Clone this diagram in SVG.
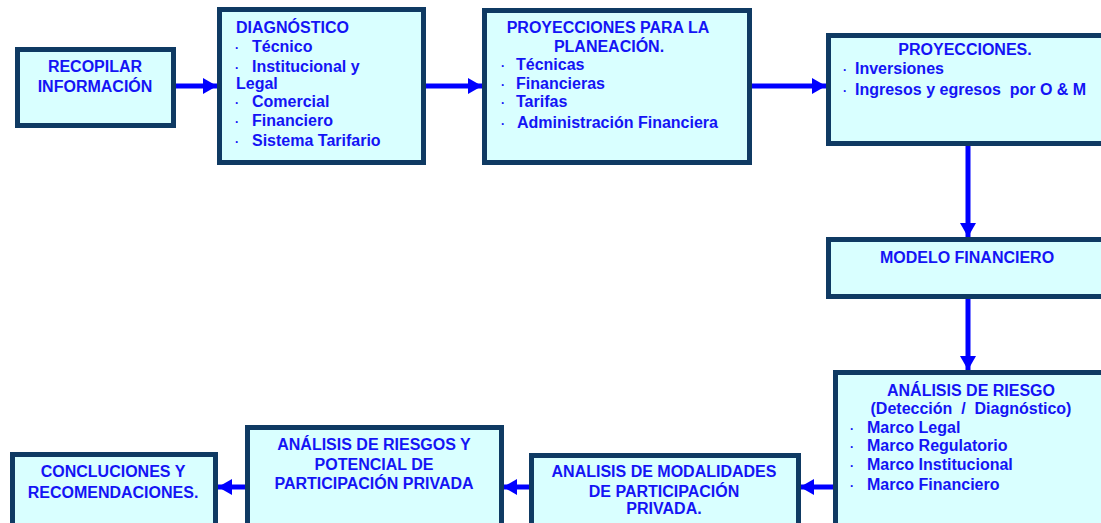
<svg xmlns="http://www.w3.org/2000/svg" width="1101" height="523" viewBox="0 0 1101 523">
<style>
.box{fill:#d9ffff;stroke:#0f3a63;stroke-width:5}
.t{font-family:"Liberation Sans",Arial,sans-serif;font-weight:bold;font-size:16px;fill:#1414f5}
.c{text-anchor:middle}
.b{font-size:12px}
.ar{stroke:#0000ff;stroke-width:5;fill:none;marker-end:url(#ah)}
</style>
<defs>
<marker id="ah" markerUnits="userSpaceOnUse" markerWidth="15" markerHeight="16" refX="14" refY="8" orient="auto">
<path d="M0,0 L14,8 L0,16 Z" fill="#0000ff"/>
</marker>
</defs>
<rect width="1101" height="523" fill="#ffffff"/>
<g id="connectors">
<line class="ar" x1="176" y1="86" x2="217" y2="86"/>
<line class="ar" x1="426" y1="86" x2="482" y2="86"/>
<line class="ar" x1="752" y1="86" x2="826" y2="86"/>
<line class="ar" x1="968" y1="146" x2="968" y2="237"/>
<line class="ar" x1="968" y1="299" x2="968" y2="370"/>
<line class="ar" x1="833" y1="487" x2="800" y2="487"/>
<line class="ar" x1="529" y1="487" x2="503" y2="487"/>
<line class="ar" x1="245" y1="487" x2="218" y2="487"/>
</g>
<g id="recopilar">
<rect class="box" x="17.5" y="49.5" width="156" height="76"/>
<text class="t c" x="95" y="72">RECOPILAR</text>
<text class="t c" x="95" y="92">INFORMACIÓN</text>
</g>
<g id="diagnostico">
<rect class="box" x="219.5" y="9.5" width="204" height="153"/>
<text class="t" x="236" y="33">DIAGNÓSTICO</text>
<text class="t b" x="235" y="52">·</text><text class="t" x="252" y="52">Técnico</text>
<text class="t b" x="235" y="72">·</text><text class="t" x="252" y="72">Institucional y</text>
<text class="t" x="236" y="89">Legal</text>
<text class="t b" x="235" y="107">·</text><text class="t" x="252" y="107">Comercial</text>
<text class="t b" x="235" y="126">·</text><text class="t" x="252" y="126">Financiero</text>
<text class="t b" x="235" y="146">·</text><text class="t" x="252" y="146">Sistema Tarifario</text>
</g>
<g id="proyecciones-planeacion">
<rect class="box" x="484.5" y="10.5" width="265" height="152"/>
<text class="t c" x="608" y="33">PROYECCIONES PARA LA</text>
<text class="t c" x="609" y="52">PLANEACIÓN.</text>
<text class="t b" x="501" y="70">·</text><text class="t" x="516" y="70">Técnicas</text>
<text class="t b" x="501" y="89">·</text><text class="t" x="516" y="89">Financieras</text>
<text class="t b" x="501" y="107">·</text><text class="t" x="516" y="107">Tarifas</text>
<text class="t b" x="501" y="128">·</text><text class="t" x="517" y="128">Administración Financiera</text>
</g>
<g id="proyecciones">
<rect class="box" x="828.5" y="35.5" width="280" height="108"/>
<text class="t c" x="965" y="55">PROYECCIONES.</text>
<text class="t b" x="843" y="74">·</text><text class="t" x="855" y="74">Inversiones</text>
<text class="t b" x="843" y="95">·</text><text class="t" x="855" y="95" xml:space="preserve">Ingresos y egresos  por O &amp; M</text>
</g>
<g id="modelo-financiero">
<rect class="box" x="828.5" y="239.5" width="280" height="57"/>
<text class="t c" x="967" y="263">MODELO FINANCIERO</text>
</g>
<g id="analisis-riesgo">
<rect class="box" x="835.5" y="372.5" width="280" height="170"/>
<text class="t c" x="971" y="396">ANÁLISIS DE RIESGO</text>
<text class="t c" x="971" y="414" xml:space="preserve">(Detección  /  Diagnóstico)</text>
<text class="t b" x="850" y="433">·</text><text class="t" x="867" y="433">Marco Legal</text>
<text class="t b" x="850" y="451">·</text><text class="t" x="867" y="451">Marco Regulatorio</text>
<text class="t b" x="850" y="470">·</text><text class="t" x="867" y="470">Marco Institucional</text>
<text class="t b" x="850" y="490">·</text><text class="t" x="867" y="490">Marco Financiero</text>
</g>
<g id="analisis-modalidades">
<rect class="box" x="531.5" y="455.5" width="267" height="80"/>
<text class="t c" x="664" y="477">ANALISIS DE MODALIDADES</text>
<text class="t c" x="664" y="497">DE PARTICIPACIÓN</text>
<text class="t c" x="664" y="514">PRIVADA.</text>
</g>
<g id="analisis-riesgos-potencial">
<rect class="box" x="247.5" y="427.5" width="254" height="100"/>
<text class="t c" x="374" y="450">ANÁLISIS DE RIESGOS Y</text>
<text class="t c" x="374" y="470">POTENCIAL DE</text>
<text class="t c" x="374" y="489">PARTICIPACIÓN PRIVADA</text>
</g>
<g id="conclusiones">
<rect class="box" x="12.5" y="454.5" width="203" height="80"/>
<text class="t c" x="113" y="477">CONCLUCIONES Y</text>
<text class="t c" x="113" y="498">RECOMENDACIONES.</text>
</g>
</svg>
